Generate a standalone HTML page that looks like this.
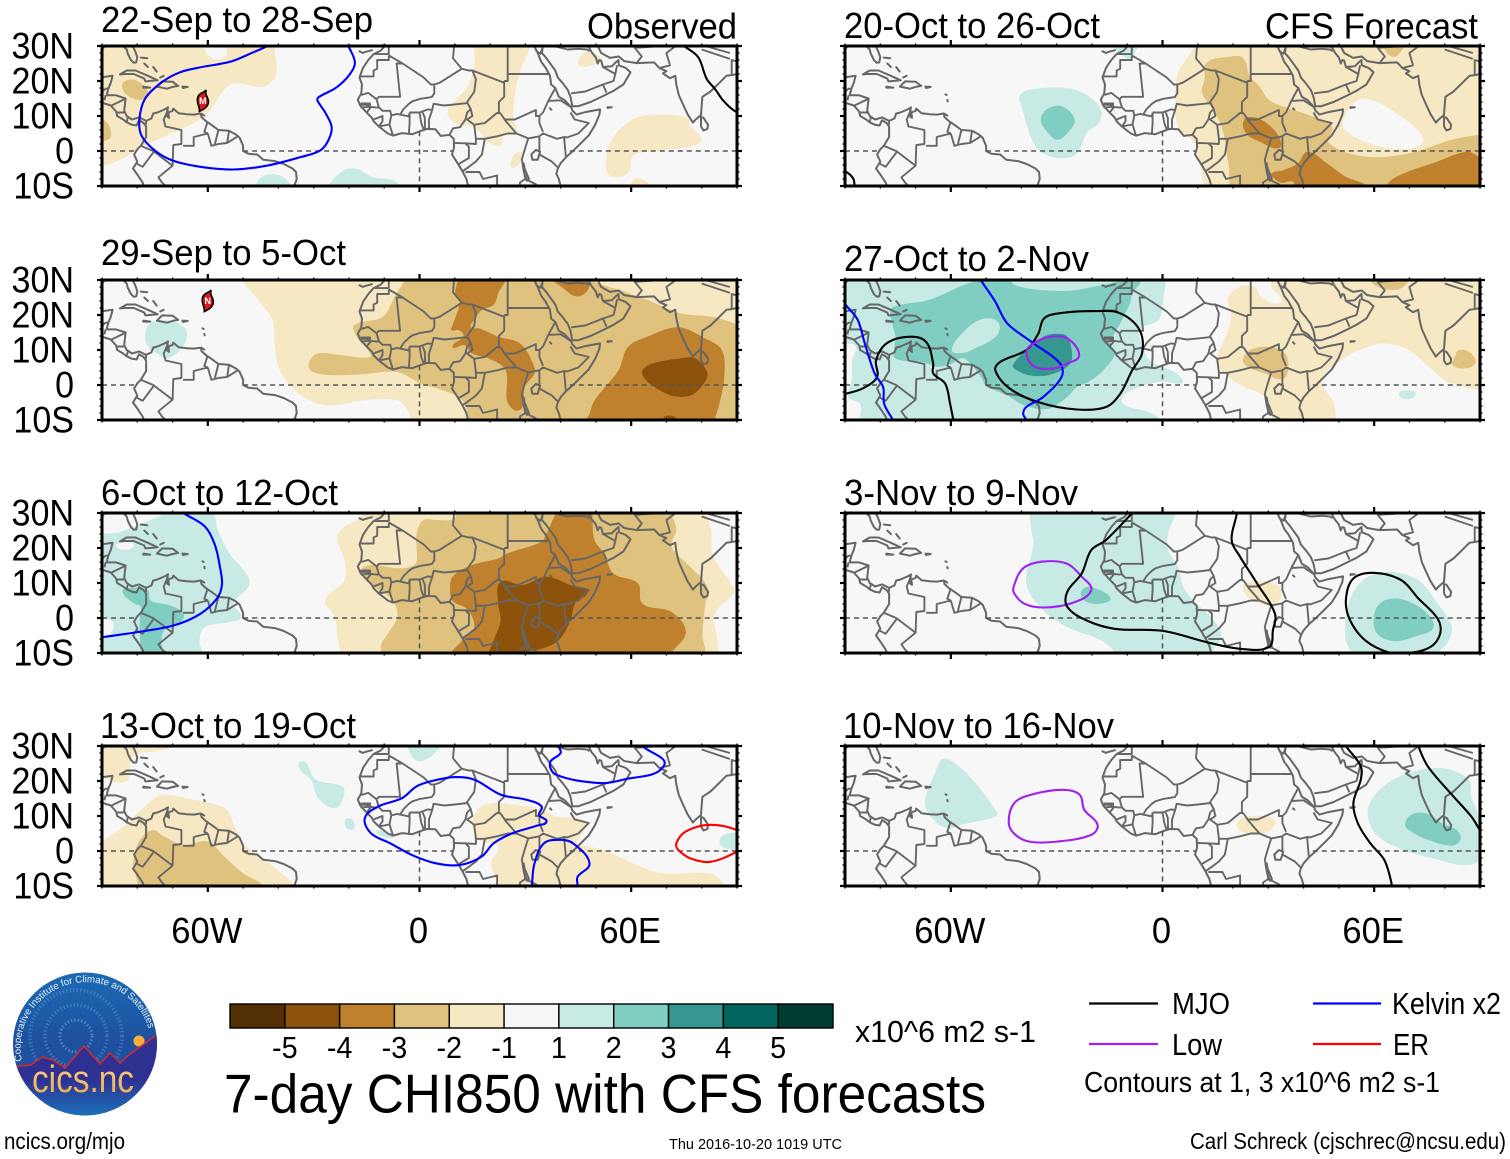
<!DOCTYPE html>
<html lang="en">
<head>
<meta charset="utf-8">
<title>7-day CHI850 with CFS forecasts</title>
<style>
html,body{margin:0;padding:0;background:#fff;}
svg{display:block;}
text{font-family:"Liberation Sans",sans-serif;fill:#000;}
</style>
</head>
<body>
<svg id="chart" xmlns="http://www.w3.org/2000/svg" width="1510" height="1159" viewBox="0 0 1510 1159">
<defs>
<linearGradient id="logoSky" x1="0" y1="0" x2="0" y2="1"><stop offset="0" stop-color="#1b6cb5"/><stop offset="0.5" stop-color="#1d4f9e"/><stop offset="1" stop-color="#1d5ba8"/></linearGradient>
<linearGradient id="logoLand" x1="0" y1="0" x2="0" y2="1"><stop offset="0" stop-color="#2e3192"/><stop offset="0.55" stop-color="#2e3192"/><stop offset="1" stop-color="#1b78c0"/></linearGradient>
<linearGradient id="logoText" x1="0" y1="0" x2="0" y2="1"><stop offset="0" stop-color="#fbd68a"/><stop offset="1" stop-color="#e9a347"/></linearGradient>
<clipPath id="logoClip"><ellipse cx="85" cy="1044" rx="72" ry="71.5"/></clipPath>
<path id="logoArc" d="M 22,1061 A 65 65 0 1 1 150,1034"/>
</defs>
<rect x="0" y="0" width="1510" height="1159" fill="#fff"/>
<g id="panels"></g>

<g>
<text x="587" y="38.5" font-size="36" textLength="150" lengthAdjust="spacingAndGlyphs">Observed</text>
<text x="1265" y="38.5" font-size="36" textLength="213" lengthAdjust="spacingAndGlyphs">CFS Forecast</text>
</g>

<g id="colorbar"></g>
<text x="855" y="1042" font-size="31" textLength="181" lengthAdjust="spacingAndGlyphs">x10^6 m2 s-1</text>
<text x="224" y="1112.5" font-size="55" textLength="762" lengthAdjust="spacingAndGlyphs">7-day CHI850 with CFS forecasts</text>

<g>
<line x1="1089" y1="1003.5" x2="1158" y2="1003.5" stroke="#000" stroke-width="2.2"/>
<text x="1172" y="1014" font-size="31" textLength="58" lengthAdjust="spacingAndGlyphs">MJO</text>
<line x1="1313" y1="1003.5" x2="1381" y2="1003.5" stroke="#0000ff" stroke-width="2.2"/>
<text x="1392" y="1014" font-size="31" textLength="109" lengthAdjust="spacingAndGlyphs">Kelvin x2</text>
<line x1="1089" y1="1044" x2="1158" y2="1044" stroke="#a020f0" stroke-width="2.2"/>
<text x="1172" y="1055" font-size="31" textLength="50" lengthAdjust="spacingAndGlyphs">Low</text>
<line x1="1313" y1="1044" x2="1381" y2="1044" stroke="#ff0000" stroke-width="2.2"/>
<text x="1393" y="1055" font-size="31" textLength="36" lengthAdjust="spacingAndGlyphs">ER</text>
<text x="1084" y="1092" font-size="29" textLength="356" lengthAdjust="spacingAndGlyphs">Contours at 1, 3 x10^6 m2 s-1</text>
</g>

<g>
<g clip-path="url(#logoClip)">
<rect x="10" y="970" width="150" height="150" fill="url(#logoSky)"/>
<circle cx="76" cy="1036" r="46" fill="none" stroke="#6fa8dc" stroke-width="4" stroke-dasharray="1.5 2" opacity=".35"/>
<circle cx="76" cy="1036" r="31" fill="none" stroke="#6fa8dc" stroke-width="3.5" stroke-dasharray="1.5 2" opacity=".4"/>
<circle cx="76" cy="1036" r="16" fill="none" stroke="#8fbce6" stroke-width="3" stroke-dasharray="1.5 2" opacity=".45"/>
<circle cx="139" cy="1041" r="5.5" fill="#fbb040"/>
<path d="M10,1068 L18,1066 31,1065 42,1057 53,1060 65,1068 84,1046 100,1064 110,1053 120,1063 129,1055 155,1036 165,1030 165,1120 10,1120 Z" fill="url(#logoLand)"/>
<path d="M10,1068 L18,1066 31,1065 42,1057 53,1060 65,1068 84,1046 100,1064 110,1053 120,1063 129,1055 155,1036" fill="none" stroke="#d8262c" stroke-width="1.5"/>
</g>
<text font-size="9.7" style="fill:#e8f1fa"><textPath href="#logoArc" startOffset="0">Cooperative Institute for Climate and Satellites</textPath></text>
<text x="32" y="1092" font-size="38" textLength="102" lengthAdjust="spacingAndGlyphs" style="fill:url(#logoText)">cics.nc</text>
</g>

<text x="4" y="1149" font-size="23.5" textLength="121" lengthAdjust="spacingAndGlyphs">ncics.org/mjo</text>
<text x="669" y="1149" font-size="15" textLength="173" lengthAdjust="spacingAndGlyphs">Thu 2016-10-20 1019 UTC</text>
<text x="1190" y="1149" font-size="23.5" textLength="316" lengthAdjust="spacingAndGlyphs">Carl Schreck (cjschrec@ncsu.edu)</text>
</svg>

<script>
// ---------- chart values (lon,lat pairs in flat arrays) ----------
const panelTitles = ["22-Sep to 28-Sep","29-Sep to 5-Oct","6-Oct to 12-Oct","13-Oct to 19-Oct","20-Oct to 26-Oct","27-Oct to 2-Nov","3-Nov to 9-Nov","10-Nov to 16-Nov"];
const latTickLabels = [[30,"30N"],[20,"20N"],[10,"10N"],[0,"0"],[-10,"10S"]];
const lonTickLabels = [[-60,"60W"],[0,"0"],[60,"60E"]];
const colorbarColors = ["#543005","#8c510a","#bf812d","#dfc27d","#f6e8c3","#f7f7f7","#c7eae5","#80cdc1","#35978f","#01665e","#003c30"];
const colorbarTicks = ["-5","-4","-3","-2","-1","1","2","3","4","5"];
const shadeLevels = {"-4":"#8c510a","-3":"#bf812d","-2":"#dfc27d","-1":"#f6e8c3","0":"#f7f7f7","1":"#c7eae5","2":"#80cdc1","3":"#35978f"};
const lineColors = {mjo:"#000000",kelvin:"#0000ff",low:"#a020f0",er:"#ff0000"};
const equatorLandGaps = [[-90,-80.3],[-50,9.4],[42.6,90]];
const meridianOcean = [5.6,-10];
const stormMarks = [[0,-61.4,14.3,"M"],[1,-60,24,"N"]];

const panel1Shades = [
[-1,[-92,32,-61,32,-61,29.5,-59,26.5,-55,27,-54,32,-43,32,-40.6,25,-41,21,-44.4,18.3,-52.6,19.4,-55.3,17.5,-57.4,14.6,-60,10.8,-64.9,7.5,-72.4,4.1,-78.5,1.2,-84,-2.1,-90,-4.5,-92,-5]],
[-2,[-84.1,19.4,-81.2,20.4,-77.8,18.3,-77,15.6,-79.8,14.6,-83.6,16.6]],
[-2,[-92,9.5,-88.5,8,-87.5,4,-89,3,-92,3]],
[-1,[16.7,32,30.4,32,28.5,22.5,27.1,16.8,26.6,9.1,27.4,6.3,23.8,4.4,22.8,1.5,19.5,2.5,17.2,5.3,14.3,7.2,10.5,7.7,7.9,11,10.5,14.8,13.8,18.7,15.5,24.4]],
[-1,[45.3,24.4,46,27.7,48.3,28.2,51.7,26.3,50.2,24.9]],
[-1,[53.5,0.6,55.9,5.3,60.6,9.1,65.4,10.3,75.8,9.6,76.7,7.2,80,3.4,77.6,1.5,68.2,0.1,60.6,-1.3,59.2,-6.1,55,-7.5,52.9,-5.1]],
[-1,[60,-11,61,-8,63.5,-8.3,66,-11]],
[-1,[26.1,-4.7,26.6,-1.3,29,-0.4,28.5,-3.2]],
[1,[-46.4,-9.4,-43.8,-6.9,-39.5,-7,-36.7,-9.4,-36,-11.5,-47,-11.5]],
[1,[-25.4,-9.4,-21.6,-5.6,-17.8,-5.1,-13.2,-7.5,-6.9,-8.6,-5.5,-11.5,-26,-11.5]]
];
const panel1Lines = [
["kelvin",false,[-40,32,-42.9,30.1,-47.1,28.2,-53.7,25.5,-62.2,23.9,-67.9,22.5,-73.1,19.6,-77.8,14.9,-79.4,9.1,-78.8,4.4,-75,0.1,-69.8,-2.8,-62.2,-4.5,-52.8,-5.3,-43.3,-4.2,-33.9,-1.8,-28.2,0.1,-25.9,2.9,-24.9,6.8,-26.8,11.1,-28.9,14.4,-28.7,15.3,-23.5,18.2,-19.7,22,-18.3,25.3,-20.2,30.1,-21,32]],
["mjo",false,[73,31.5,74.8,30.1,79,26.8,81.4,20.6,83.8,17.7,86.1,14.4,89.4,11.4,92,10.8]]
];

const panel2Shades = [
[-1,[-50.5,32,-50.5,30.3,-45.8,24.3,-41.7,18.6,-41,10.9,-39.6,4.2,-34.2,-2.5,-26.7,-5.8,-15.8,-4.4,-6.3,-4.4,-2.9,-8.2,-2.2,-11.5,92,-11.5,92,32]],
[-2,[-4.2,32,-4.2,30.3,-7,25.3,-10.4,19.5,-18.5,17.1,-17.8,13.8,-13.8,8.5,-16,7.8,-24,8.8,-29.4,8.8,-31.5,5.6,-30,3.6,-24,2.8,-15.8,3.1,-6.3,3.7,0.5,0.4,6.7,-1.5,12.1,-4.4,14.2,-10,14.2,-11.5,92,-11.5,92,14.7,85,19,74,20.5,64.6,24.3,56.4,27.2,49.6,29.6,48.2,32]],
[-3,[12.8,32,24.4,32,22.3,26.2,21,22.9,17.6,21.4,15.5,18.6,14.5,16.5,16.9,16.2,22.3,13.8,28.5,11.9,32.2,6.1,32.6,3.3,29.8,-0.6,29.2,-6.3,27.1,-7.3,24.8,-4.4,24.4,4.2,19.6,7.6,14.9,9,12.8,11.4,9.4,10.9,12.5,14,11,15.7,9,15.7,9.4,17.1,11.4,23.8,10,26.2]],
[-3,[36.6,32,47.5,32,48,27.7,44.8,25.3,40.7,27.7]],
[-3,[47,-11.5,48.2,-8.2,49.6,-4.4,56.4,4.2,59.1,10.9,64.6,13.8,73.4,16.5,80.9,13.3,85.7,10,86.4,2.3,85,-5.4,83.7,-10,83.7,-11.5]],
[-4,[63.2,4.2,65.9,6.1,74.1,7.6,78.2,7.6,81.6,3.3,80.2,-0.1,76.8,-3,71.4,-3,65.9,-0.1,63.5,2.3]],
[-4,[68.7,-10,70.8,-8.7,73.4,-10.5,70,-11.5]],
[1,[-77.8,13.8,-76.4,17.6,-71.7,18.5,-66.9,16.6,-65.9,13.8,-68.3,9.5,-71.7,7.6,-74.4,9,-76.8,10.9]]
];
const panel2Lines = [];

const panel3Shades = [
[1,[-70,32,-58,32,-58,30,-57.3,25.5,-53.9,18.5,-48.5,11.8,-48.5,8.9,-52.6,4.1,-50.5,0.3,-54,-1.2,-60.8,-2.6,-62.4,-6.4,-61.4,-10,-61.4,-11.5,-92,-11.5,-92,-6,-88,-5,-87,-1,-92,0.5,-92,22.5,-85,24.5,-80,26.5,-75,28.5,-72,30]],
[0,[-86,20.5,-84,21.5,-81,21,-83,19.5]],
[2,[-84.2,7.5,-81.9,8.6,-77.1,8,-76.2,5,-72.3,4,-69.6,3.2,-66.9,1.2,-67.6,-1.1,-72.3,-3.5,-73,-8.3,-71,-10,-71,-11.5,-78,-11.5,-79.2,-6.4,-79.3,0.3,-79,3.2,-81,4.2]],
[-1,[-16,32,-16.5,29,-21.9,25.6,-23.3,22.8,-21.3,16.6,-21.3,10.8,-26.7,5.1,-24,0.3,-23.3,-5.5,-22.3,-10,-22.3,-11.5,85,-11.5,85,-10,84.3,-5.5,83.7,1.2,89,7,89,8.9,85,14.6,83,18.5,82.7,25.2,81,30.1,81,32]],
[-2,[72,32,71.4,30,72.8,25.2,71.5,20.4,76.8,14.6,81.6,8.9,80.9,3.2,80.2,-4.5,80.2,-11.5,-9.6,-11.5,-11,-8.3,-9,-4.5,-6.3,0.3,-7.6,5.1,-13.8,9.9,-15.8,14.6,-4.9,14.2,-1.1,15.6,-0.8,19.4,-0.8,24.2,1.2,28,5,28,10,28.5,10,32]],
[-3,[40.7,32,49,32,49,29.5,49.6,22.3,52.3,18.5,55,12.7,61.9,9.9,63.2,4.1,71.4,1.7,75.5,-4,71.4,-10,71,-11.5,8.7,-11.5,12.1,-6.4,15.5,-2.6,13.5,2.5,9.5,4.8,8.7,7.5,9.4,11.8,14.9,15.1,22.3,17,25,18.5,34.6,21.8,36,24.2]],
[-4,[23,10.3,29.2,9.4,36,11.8,42.8,9.4,47.5,7.5,44.1,4.1,42.8,-0.7,39.4,-6.4,34.6,-8.8,29.2,-10,29,-11.5,19.5,-11.5,19.6,-10,21,-6.4,23,-0.7,22.3,4.1]]
];
const panel3Lines = [
["kelvin",false,[-68.5,31.5,-66.9,30,-60.8,26.1,-58,20.9,-56.4,13.7,-56,9.4,-57.4,5.6,-62.1,1.2,-69.6,-2.1,-79.8,-4,-90,-5.5,-93,-6]]
];

const panel4Shades = [
[-1,[-92,32,-69,32,-69.6,30,-74.4,28.5,-81.2,27.1,-82.6,20.4,-86,19.6,-90,21.8,-92,22]],
[-1,[-92,1.5,-90,2.7,-83.9,7,-80.5,10.3,-74.4,15.6,-71.7,16,-66.3,15.1,-59.4,13.7,-54.6,11.8,-52.6,7.5,-49.9,2.2,-45.1,-1.6,-39,-6.4,-35.6,-9.6,-35,-11.5,-92,-11.5]],
[-2,[-79.2,3.2,-75.7,6,-72.3,4.1,-66.9,1.7,-60,2.7,-55.3,-1.6,-49.9,-6.4,-44.5,-9.6,-44,-11.5,-80,-11.5,-80,-9,-81.1,-2.6]],
[-1,[14.9,7.5,16.9,12.2,21,13.7,30.5,12.7,33.9,12.2,38.7,9.9,47.5,8.4,45.5,4.1,44.8,2.2,52.3,0.3,60.5,-3.5,68.7,-6.4,82.3,-6.4,86.4,-9.6,86.5,-11.5,21.5,-11.5,22.3,-9.6,20.3,-3.5,22.3,1.2,16.9,3.2]],
[1,[-3,32,6,32,5.3,29,0.5,25.6,-2.2,27.1]],
[1,[-34.2,25.2,-32.2,25.2,-29.4,20.4,-21.9,18.5,-21.5,15.6,-24,12.2,-28.7,15.1,-30.8,20.4,-33.5,22.8]],
[1,[-21,8.9,-19.2,9.1,-18.5,6.5,-20.6,6.5]],
[1,[-12.4,5.6,-10.4,5.6,-7.6,4.1,-9.7,3.9]],
[1,[85,2.7,92,5,92,0.7]]
];
const panel4Lines = [
["kelvin",true,[-15.5,9.4,-11.7,12.7,-4.9,15.1,-0.8,18.5,4,20.1,10.1,21.1,15.5,20.4,23,16.1,30.5,14.6,34.6,12.7,33.9,10.3,36,8.4,33.2,7.2,26.4,5.1,21,2.2,17.6,-1.6,11.4,-4,4.6,-3.5,-2.2,-1.1,-8.3,2.2,-13.8,5.1]],
["kelvin",false,[31.8,-12,31.9,-9.6,32.6,-3.5,35.3,2.2,40,3.2,43.5,2.2,48.2,-3.5,44.8,-7.4,44.8,-9.6,44.8,-12]],
["kelvin",false,[39,32,39.4,30,40,28,37,25.2,38.7,21.8,51,19.4,57.8,20.4,69.3,24.4,63.2,30,62,32]],
["er",true,[72.8,2.2,75.5,5.6,82.3,7.5,90,6,94,3,90,-0.2,82.3,-3.1,76.8,-2.1,73.4,0.3]]
];

const panel5Shades = [
[-1,[9.1,32,9.1,30,4.4,22.3,3.7,15.6,4.4,7,9.1,2.2,10.5,-3.5,13.9,-11.5,92,-11.5,92,32]],
[0,[51.4,9.4,55.4,14.6,60.2,14.2,67,10.3,73.8,4.1,72.5,1.2,64.3,0.8,56.1,3.2,51.4,6.5]],
[-2,[12.5,25.2,18.7,26.9,22.8,26.6,24.8,21.3,27.5,18.5,30.2,14.6,37,11.8,42.5,9.9,48,7,47.3,2.2,57.5,-1.6,69.8,-0.7,82,3.2,90,4.6,93,4,93,-11.5,20.7,-11.5,18.7,-3.5,18,0.3,17.3,5.1,15.3,10.3,11.2,16.6,11.9,20.4]],
[-2,[63,32,68.4,32,66.3,27.1,63.6,28]],
[-3,[22.8,7.5,24.1,9.7,28.9,8.4,33,4.1,33,0.8,27.5,2.7,24.1,4.6]],
[-3,[30.9,-6.4,34.3,-5.5,38.4,-3.5,41.1,-0.2,46.6,-3.5,52,-7.4,57.5,-9.6,58,-11.5,37.5,-11.5,37,-8.8,33.6,-9.1,31.6,-7.8]],
[-3,[64.3,-8.8,68.4,-6.4,76.6,-3.5,86.1,-0.2,89.8,-1.6,93,-3,93,-11.5,63.5,-11.5]],
[1,[-14,32,-6.5,32,-8,28,-9.3,26.4,-12,27.8,-14,30]],
[1,[-40.6,15.6,-37.9,17.5,-27,18,-21.5,16,-17.4,11.8,-18.1,7.9,-21.5,5.1,-24.3,-0.7,-28.3,-2.1,-33.8,-0.7,-36.5,2.2,-38.6,7.9,-39.9,12.7]],
[2,[-34.5,8.9,-32.4,12.2,-28.3,12.7,-24.9,8.9,-27,5.1,-29.7,3.2,-32.4,5.1]]
];
const panel5Lines = [
["mjo",false,[-92,-5,-90,-5.7,-87.7,-7.8,-87.3,-10,-87.3,-12]]
];

const panel6Shades = [
[1,[-92,32,1,32,1,30,0.3,25.3,-1.1,18.6,-6.5,15.7,-5.2,10,-3.8,7.1,5.7,1.3,-1.1,0.9,-10.6,-2.5,-11.2,-5.4,-3.8,-7.8,-0.4,-10,-0.4,-11.5,-85,-11.5,-85.7,-5.4,-89,-3.5,-88,2,-88,7,-87,11,-92,13]],
[2,[-56.3,28.6,-52.9,29.6,-43.4,30,-42,28.6,-35.2,27.2,-25.6,27,-16.8,28.6,-6.5,30,-8.6,26.2,-9.2,23.3,-12,17.6,-14.7,11.9,-13.4,9,-16.8,4.2,-20.2,1.3,-24.3,-0.6,-27,-3.4,-32.4,-6.8,-39.2,-5.8,-43.3,-3.4,-50.1,-0.1,-51.5,2.3,-56.3,7.6,-59.7,6.1,-63.9,5.2,-67.9,6.5,-75.7,7.6,-76,10.9,-75.7,13.8,-76.4,16.7,-77.1,21.4,-74.4,22.9,-66.2,24.3]],
[1,[-59.7,10,-55.9,15.7,-51.8,18.6,-47.8,18.8,-46.1,16.7,-47.8,13.3,-53.3,10.4,-56.3,9.2]],
[3,[-42.4,5.6,-38.6,10,-33.8,13.8,-29.7,14.7,-27,13.8,-25.6,8,-27,5.2,-32.4,2.8,-37.9,2.8,-41.3,4.2]],
[-1,[32.3,32,93,32,93,0.4,82,0.4,76.6,4.2,69.8,10,62.9,11.9,58.2,10.9,51.4,7.6,45.2,1.3,48.6,-5.4,48,-11.5,32.9,-11.5,28.9,-3.4,23.4,-0.6,20,1.3,15.2,6.1,15.4,8,18.2,14.7,19.5,20,18.5,25,22.1,28.1,26.2,28.1,28.2,24.8,33.7,23.8,30.9,28.1]],
[-2,[22.8,7.1,24.8,10,30.2,10.9,34.3,9.5,35.7,6.1,34.3,1.8,28.9,3.3,24.1,5.2]],
[-2,[58,32,70,32,68.4,28.1,64.3,27.2,60.1,28.6]],
[-2,[82.7,7.6,84,10,87.5,9,88.6,6.1,84.8,4.7,82,6.1]],
[1,[67,-2.5,69.8,-1.5,71.8,-2.7,69,-4.1]]
];
const panel6Lines = [
["mjo",true,[-33.6,19,-29.3,20.5,-18.8,21.1,-12,20.5,-6.5,15.7,-5.8,9,-8.6,4.2,-12,-2.5,-16,-6.3,-24.3,-7,-35.2,-4.9,-43.3,-1,-47.4,4.2,-46,6.6,-38.6,10,-35.2,14.7]],
["mjo",false,[-93,-3.5,-89.8,-2.5,-85,-1,-80.9,2.3,-81.2,7,-78.2,11.9,-71.7,13.8,-67,12.3,-65,6.1,-65,3.3,-61.6,0.4,-60.2,-5.4,-59.3,-10,-59,-12]],
["kelvin",false,[-52.5,32,-51.5,30,-47.4,23.8,-44,17.6,-36.5,11.9,-29,6.1,-28.6,2.3,-33.8,-3.4,-38.6,-6.3,-39.5,-8.2,-38.6,-10,-38,-12]],
["kelvin",false,[-91,24.5,-89.8,22.9,-86.4,18.6,-84.4,11.9,-81.6,3.3,-79.2,-0.6,-78.9,-5.4,-76.4,-10,-75.5,-12]],
["low",true,[-38.6,9.5,-36.5,11.9,-31.8,13.8,-27,13.3,-23.6,8.5,-27,6.1,-31,4.7,-36.5,5.4]]
];

const panel7Shades = [
[1,[-36.5,32,3.7,32,3.7,30,1.6,24.2,1.6,19.4,4.4,14.6,6.4,7.9,15.3,-1.6,16.6,-5.5,13.9,-9.9,13.9,-11.5,-13.4,-11.5,-13.4,-9.9,-17.4,-6.4,-27,-2.6,-33.8,2.2,-38.6,9.9,-36.5,21.3,-37.2,25.2]],
[2,[-23.2,7,-21.5,8.9,-18.8,8.4,-14.7,5.6,-17.4,4.1,-21.5,4.6]],
[1,[51.8,-5.5,52.7,4.1,56.8,10.8,64.3,13.2,72.5,10.8,78,4.1,82,-2.6,80.6,-7.4,77.8,-10,77.5,-11.5,53.5,-11.5,53.4,-10]],
[2,[59.9,0.3,61.6,4.1,65.7,5.6,71.1,4.1,75.9,0.3,76.6,-3.1,72.5,-5,65.7,-6.6,60.9,-4.5]],
[-1,[22.8,8.9,24.1,10.3,31.6,9.9,33.7,7.9,32.3,4.1,27.5,4.1,24.1,6]]
];
const panel7Lines = [
["low",true,[-42.2,8.9,-39.5,14.2,-34,16.1,-27.3,15.6,-22.9,11.8,-20.2,7.9,-25.6,4.3,-33.8,3,-39.2,4.1,-42,7]],
["mjo",false,[-7.5,31.5,-8.6,30,-16,22.3,-20.2,19.4,-22.9,12.7,-27,7.5,-27,3.2,-21.5,-0.7,-13.4,-3.1,0.3,-3.7,12.5,-6.9,22.1,-8.8,30.2,-8.3,31.3,-3.5,31.9,1.2,26.8,9.9,22,17.5,19.6,22.3,21.1,30,21,32]],
["mjo",true,[52,5.1,54.1,11.3,60.2,12.9,67.7,10.8,72.5,5.6,78,-0.2,78.7,-4.5,75.9,-8.3,69.8,-10,64.3,-9.9,57.5,-6.4,53.2,-0.7]]
];

const panel8Shades = [
[1,[-62.7,26.1,-60.4,26.1,-54.3,20.9,-46.8,10.8,-47.5,9.7,-57,7.5,-60.4,6.5,-63.8,7.9,-67.2,12.7,-66.5,17.5,-64.5,22.3]],
[1,[58.2,11.8,61.6,17.5,68.4,21.8,79.3,23.7,86.8,20.4,87.5,15.6,89.5,10.3,90,4,90.9,-1.6,86.1,-4,76.6,-2.1,67,0.8,60.2,5.1]],
[2,[68.7,7.5,70.4,10.3,74.5,10.8,79.3,7.9,83.4,6,84.5,3.2,82,1.5,75.2,3.2,70.4,5.6]],
[-1,[21,7.5,23.4,9.7,30.2,9.7,31.9,7.9,28.9,5.1,23.4,5.1]]
];
const panel8Lines = [
["low",true,[-43.6,8.4,-42,13.7,-37.2,16.1,-28.3,17.5,-23.5,16.1,-22.2,11.8,-18.4,7.5,-20.2,4.6,-29.7,2.7,-37.9,2.7,-42.2,5.1]],
["mjo",false,[51,32,52,30,56.2,24.2,56.2,20.4,54.1,13.7,55.4,7.9,58.9,2.2,62.9,-2.6,65,-9.6,65,-12]],
["mjo",false,[72,32,72.5,30,75.2,24.2,82,16.1,87.5,9.9,90.2,5.6,92,3]]
];

const panelShades = [panel1Shades,panel2Shades,panel3Shades,panel4Shades,panel5Shades,panel6Shades,panel7Shades,panel8Shades];
const panelLines = [panel1Lines,panel2Lines,panel3Lines,panel4Lines,panel5Lines,panel6Lines,panel7Lines,panel8Lines];

const coastLines = [
[-92,18.6,-90.7,19.3,-90.4,21,-87,21.5,-87.5,19.5,-88.2,17.8,-88.7,15.9,-86,15.9,-83.3,15,-83.7,11.5,-83,10,-81.5,9,-79.5,9.6,-77.5,8.6,-76,9.3,-75.5,10.7,-74.3,11,-72,12,-71.3,12.5,-71.6,11,-71.7,10,-71,9.5,-71.2,11,-70,11.5,-69.8,12.1,-68.3,10.8,-66,10.5,-64,10.4,-62,10.7,-61.8,9.7,-60.5,8.5,-59,7.5,-57,6,-54,5.8,-52,4.7,-51,3.8,-50,1.5,-50,0,-48.5,-0.8,-46,-1,-44.3,-2.5,-41,-2.9,-38.5,-3.7,-36,-5,-35,-6,-34.8,-8,-35.5,-10,-36.5,-11.5],
[-92,14.5,-90,13.8,-87.5,13,-86,11.3,-85.7,10,-84,9,-83,8.2,-81.5,7.5,-80.2,7.3,-79.5,8.8,-78.2,8,-77.5,7,-77.5,4,-79,1.5,-80,0.5,-80.9,-1,-80,-3,-81.2,-5,-79.8,-7,-78.5,-9,-77.5,-11.5],
[-92,29.4,-90,29.2,-89,30,-86,30.4,-84,30,-83,29,-82.7,27.8,-81.8,26,-81,25.2,-80.3,25.3,-80,26.8,-80.6,28.5,-81.3,30,-81.4,31,-80,32],
[-84.9,21.9,-83,23,-80.5,23,-77,21.5,-74.2,20.2,-77.7,19.9,-78,20.7,-81,22,-83.5,22,-84.9,21.9],
[-74.4,18.4,-73,19.9,-70,19.8,-68.4,18.6,-70,18.3,-71.6,17.8,-74.4,18.4],
[-78.3,18.4,-76.3,18.1,-78.3,18.1,-78.3,18.4],
[-67.2,18.4,-65.7,18.3,-67,18,-67.2,18.4],
[-79,26.7,-77.2,26.5],[-78,25,-77,24],[-75.5,24,-74.5,22.7],[-73.5,21,-72.5,21.5],
[-61.5,16.2,-61.2,16],[-61,14.6,-60.9,14.2],[-61.7,10.6,-61,10.1],
[-9.8,32,-9.8,30,-11,28.7,-13,27.7,-14.5,26,-16,23.8,-17,21,-16.3,19,-16.5,16.5,-17.5,14.7,-16.8,13,-15,11,-13.5,9.5,-13,8.5,-11.5,7,-9,5,-7.5,4.4,-5,5.1,-2,4.8,0,5.6,2,6.3,4.5,6.2,6,4.3,8.5,4.6,9.7,3.5,9.8,1,9.2,-1,11,-3.8,12.2,-5.8,13.3,-8,13.8,-10,13.9,-11.5],
[-17,28.5,-16,28],[-15.7,28.2,-13.5,28.8],
[32.5,30,33.5,28,34.5,25.5,35.7,23.9,37,21.5,37.3,19,38.5,18,39.5,15.5,41.2,14.5,43,12.5,43.3,11.6,44.5,10.4,47,11.1,51.2,11.9,51,10.4,49.8,7.5,48,4.5,46,2.5,43.5,0,41.5,-1.8,40,-3.5,39.2,-5,38.8,-6.5,39.5,-8,40,-10,40.5,-11.5],
[32.6,30,33.2,28.5,34.3,27.8,34.9,29.5],
[34.9,29.5,34.7,28,36,26.5,37.2,24.8,38.5,23,39.2,21,40.5,19.5,42,17.5,42.8,15.5,43.3,12.8,45,12.8,48.5,14,52,15.7,55,17.2,57.8,19,59.8,22.5,58.5,23.7,56.5,24.5,56.4,26,55.5,25.2,54.5,24.2,52,24,51.5,25.8,51,26,50.5,25,50,26.7,48.8,28.2,48,29.7,49,30.3,50.5,30,51.5,28,54,26.6,56.5,27,58,25.7,61.5,25.1,66.5,25.3,68,23.7,70,22.8,69,22.2,71,20.8,72.5,21.5,72.8,19,73.5,16,74.7,13.3,76,10.5,77.5,8.1,78.3,9,79.8,10.3,80,13,80.2,15.5,82.5,17,85,19.5,87,21.5,88.5,21.7,90,22,91.5,22.5,92,21],
[79.8,9.7,80.5,9.5,81.8,7.5,81.6,6.3,80.5,5.9,79.8,7,79.8,9.7],
[53.3,12.5,54.5,12.5,53.3,12.3,53.3,12.5],
[31.7,-1,33,0.3,34.2,-0.2,33.5,-2.5,32,-2.5,31.7,-1],
[29.2,-3.5,29.6,-6,30.5,-8.5,31,-8,29.8,-5,29.5,-3.5,29.2,-3.5],
[34.3,-10,34.7,-11.5],[37,12.2,37.4,11.8]
];
const borderLines = [
[-13,27.7,-8.7,27.7,-8.7,30],[-8.7,27.3,-4.8,25,1.2,21,3.2,19,4.2,19,5.7,19.5,12,23.5,9.5,26.5,9.8,30,9.5,32],
[-17,21.3,-13,21.3,-13,23,-12,23.5,-12,26,-8.7,26,-8.7,27.3],
[-4.8,25,-6.5,25,-5.5,15.5,-11.5,15.5,-12.2,14.8],[-16.5,16,-14.5,16.6,-12.2,14.8,-11.5,12.5],
[12,23.5,14,23,15,23,16,20.5,15.5,16.9,13.5,14,13.6,13.7],[15,23,24,19.5,24,20],[25,32,25,20,24,20],[25,22,37,22],
[24,19.5,24,15.5,22.5,14,22.5,11,23,10.7],[13.6,13.7,14.5,12,15,10,13.5,9,15.5,7.5,18.5,8,22,10.9,23,10.7],
[4.2,19,4.2,16.5,3.5,15.4,0.2,14.9,-2,14.2,-3,13.5,-4.5,12,-5.5,10.4,-6.3,10.6,-8,10.2,-8.3,11.5,-10.5,11.5,-11.5,12.5,-12.2,12.4,-13.7,12.6,-15,12.7],
[-16.7,12.4,-13.7,12.7],[-16.7,13.6,-14,13.6,-14,13.2,-16.7,13.2],[-15,11,-13.7,12.6],
[3.6,11.7,4,13.5,7,13,10,13.3,13.6,13.7],[2.7,6.3,2.7,9,3.6,11.7],[1.6,6.2,1.5,9.5,0.9,11],[1.2,6.1,0.5,8,0,11],[-3,5,-2.8,8,-2.8,11],[-2.8,11,0,11,2.4,11.9,3.6,11.7],
[-7.5,4.4,-8.5,7.6,-8,10.2],[-5.5,10.4,-3,9.9,-2.8,11],[-11.5,7,-10.5,8.5,-10.5,10,-13,9],[-11.5,7,-8.5,7.6],
[8.5,4.6,9.5,6.5,11.5,6.8,13,9,13.5,11,14.5,12],[9.7,2.3,13,2.2,16,2,16,3.5,15.5,7.5],
[16,3.5,18.5,3.5,22,4.2,25,5,27.5,5,30.8,3.6],[27.5,5,24.5,8.5,23,10.7],[24,9,27,9,33,11.7,33,10,34,10],
[36.5,14.3,35,11,34,10,34,8,35,5.5],[30.8,3.6,34,4.2,35,5,39,3.5,41,4,41.9,3.9,45,5,48,8,44,9,42.8,11],
[36.5,14.3,38.5,18],[36.5,14.3,40,14.5,43,12.5],[41.5,-1.8,41,3.9],[34,4.2,34,0],[34,-1,37.5,-3,39.2,-4.7],
[30.8,3.6,29.7,0,29,-2.5,29.2,-3.5,30,-8,28.5,-9,28.5,-11.5],[18.5,3.5,17.7,-1,16,-3,14,-4.5,12.2,-5.8],
[11,-3.8,14,-2,14,1.2,13,2.2],[13,-6,17,-6,18,-8,22,-7,22,-11.5],[30,-8,33,-9.5,34.5,-11.5],
[43,16.5,47,17,52,19,55,20,55.5,22,52,24],[52,19,53,16.7],[55.5,22,56,24.5],[36,30,38,30,42,29,45,29.2,47.5,29,48.2,28.5],[34.9,29.5,34.3,31.3],[48,30,46,33],
[61.5,25.1,63,27,61,29.5,61,32],[68,23.7,71,24.5,70,28,74,31,74.5,32],[61,29.5,66,29.8,69,31.8],[80,29,88,26.3],[81,30,88,28],[88.5,21.7,88.5,26,92,25,92,23],
[-71.3,11.8,-72.5,9,-72,7,-67.5,6,-67.5,2,-69.8,1.7,-70,-4.2],[-60,8.5,-61,5.5,-60,5],[-60,5,-59,1.5,-57,2],[-57,6,-58,2],[-54,5.8,-54.5,2.3],[-51.5,4.2,-54.5,2.3,-57,2],[-60,5,-64,4,-64,1.5,-67,1.5],
[-78.8,1.4,-75.5,0,-70,-4.2,-74,-7.5,-73,-9,-70.5,-11.5],[-80.3,-3.5,-78.5,-4.5,-75.3,-0.2],[-77.5,8.6,-77.5,7.5],[-85.7,11,-83.7,11],[-83,8.2,-82.7,9.6],[-87.3,13,-83.2,15],[-89,15.9,-89.3,14.5],[-92,14.5,-91,16,-89,17.8,-88.2,17.8]
];

// ---------- axis functions ----------
const SVGNS = "http://www.w3.org/2000/svg";
const PLOT_W = 635, PLOT_H = 140, PX_PER_LAT = 3.5;
const COL_X = [102,845], ROW_Y = [46,280,513,746];
const TITLE_BASE = [[32,265,505,738],[38,271,505,738]];
const TITLE_X = [[101,101,101,100],[844,844,844,843]];
const TITLE_W = [[272,245,237,256],[256,245,234,271]];
function xAxis(left){ return lon => left + (lon + 90) * PLOT_W / 180; }
function yAxis(top){ return lat => top + (30 - lat) * PX_PER_LAT; }

function pairs(flat){ const out=[]; for(let i=0;i<flat.length;i+=2) out.push([flat[i],flat[i+1]]); return out; }
function make(tag, attrs, parent){
  const el = document.createElementNS(SVGNS, tag);
  for(const k in attrs) el.setAttribute(k, attrs[k]);
  parent.appendChild(el);
  return el;
}
function narrow(el, factor){
  const w = el.getComputedTextLength();
  el.setAttribute("textLength", (w*factor).toFixed(1));
  el.setAttribute("lengthAdjust", "spacingAndGlyphs");
}
function smoothPath(pts, closed){
  const n = pts.length;
  const at = i => closed ? pts[(i+n)%n] : pts[Math.max(0,Math.min(n-1,i))];
  let d = "M"+pts[0][0].toFixed(1)+","+pts[0][1].toFixed(1);
  const last = closed ? n : n-1;
  for(let i=0;i<last;i++){
    const p0=at(i-1),p1=at(i),p2=at(i+1),p3=at(i+2);
    const seg=Math.hypot(p2[0]-p1[0],p2[1]-p1[1])/3;
    const l1=Math.hypot(p2[0]-p0[0],p2[1]-p0[1])||1, l2=Math.hypot(p3[0]-p1[0],p3[1]-p1[1])||1;
    const c1=[p1[0]+(p2[0]-p0[0])/l1*seg,p1[1]+(p2[1]-p0[1])/l1*seg];
    const c2=[p2[0]-(p3[0]-p1[0])/l2*seg,p2[1]-(p3[1]-p1[1])/l2*seg];
    d+="C"+c1[0].toFixed(1)+","+c1[1].toFixed(1)+" "+c2[0].toFixed(1)+","+c2[1].toFixed(1)+" "+p2[0].toFixed(1)+","+p2[1].toFixed(1);
  }
  return d+(closed?"Z":"");
}
function polyPath(flat,x,y){
  return pairs(flat).map((p,i)=>(i?"L":"M")+x(p[0]).toFixed(1)+","+y(p[1]).toFixed(1)).join("");
}

// ---------- panels ----------
const root = document.getElementById("panels");
const defs = document.querySelector("defs");
const coastD = (x,y)=>coastLines.map(c=>polyPath(c,x,y)).join("");
const borderD = (x,y)=>borderLines.map(c=>polyPath(c,x,y)).join("");

panelTitles.forEach((title, idx) => {
  const col = idx < 4 ? 0 : 1, row = idx % 4;
  const left = COL_X[col], top = ROW_Y[row];
  const x = xAxis(left), y = yAxis(top);
  const g = make("g", {}, root);
  
  

  const clip = make("clipPath", {id:"clip"+idx}, defs);
  make("rect", {x:left,y:top,width:PLOT_W,height:PLOT_H}, clip);

  const bg = make("rect", {x:left,y:top,width:PLOT_W,height:PLOT_H,fill:"#f7f7f7"}, g);
  
  

  const body = make("g", {"clip-path":"url(#clip"+idx+")"}, g);
  
  

  panelShades[idx].forEach(s => {
    const pts = pairs(s[1]).map(p => [x(p[0]), y(p[1])]);
    const shade = make("path", {d:smoothPath(pts,true), fill:shadeLevels[s[0]]}, body);
    
    
  });

  const coast = make("path", {d:coastD(x,y), fill:"none", stroke:"#666", "stroke-width":2, "stroke-linejoin":"round", "stroke-linecap":"round"}, body);
  
  
  const borders = make("path", {d:borderD(x,y), fill:"none", stroke:"#666", "stroke-width":1.9, "stroke-linejoin":"round"}, body);
  
  

  equatorLandGaps.forEach(seg => {
    const eq = make("line", {x1:x(seg[0]),x2:x(seg[1]),y1:y(0),y2:y(0),stroke:"#555","stroke-width":1.5,"stroke-dasharray":"5 4"}, body);
    
    
  });
  const mer = make("line", {x1:x(0),x2:x(0),y1:y(meridianOcean[0]),y2:y(meridianOcean[1]),stroke:"#555","stroke-width":1.5,"stroke-dasharray":"5 4"}, body);
  
  

  panelLines[idx].forEach(l => {
    const pts = pairs(l[2]).map(p => [x(p[0]), y(p[1])]);
    const c = make("path", {d:smoothPath(pts,l[1]), fill:"none", stroke:lineColors[l[0]], "stroke-width":2.1, "stroke-linejoin":"round"}, body);
    
    
  });

  stormMarks.filter(m => m[0] === idx).forEach(m => {
    const mark = make("g", {transform:"translate("+x(m[1]).toFixed(1)+","+y(m[2]).toFixed(1)+")"}, body);
    
    
    make("path", {d:"M3.5,-11 C1,-8 -5,-8 -5.5,-2 C-6,3 -3,6 -3.5,10.5 C0,9 5.5,6 5.5,1 C6,-3 1,-7 3.5,-11Z", fill:"#d7191c", stroke:"#000", "stroke-width":1.6}, mark);
    const letter = make("text", {x:0,y:3,"font-size":9,"font-weight":"bold","text-anchor":"middle",style:"fill:#fff"}, mark);
    letter.textContent = m[3];
  });

  // frame + ticks
  const ticks = make("g", {stroke:"#000"}, g);
  
  
  for(let lon=-90;lon<=90;lon+=10){
    const major = lon % 60 === 0;
    const len = major ? 6 : 2.5, w = major ? 2.2 : 1.3;
    make("line",{x1:x(lon),x2:x(lon),y1:top,y2:top-len,"stroke-width":w},ticks);
    make("line",{x1:x(lon),x2:x(lon),y1:top+PLOT_H,y2:top+PLOT_H+len,"stroke-width":w},ticks);
  }
  for(let lat=-10;lat<=30;lat+=2){
    const major = lat % 10 === 0;
    const len = major ? 5 : 2.5, w = major ? 2.2 : 1.3;
    make("line",{x1:left,x2:left-len,y1:y(lat),y2:y(lat),"stroke-width":w},ticks);
    make("line",{x1:left+PLOT_W,x2:left+PLOT_W+len,y1:y(lat),y2:y(lat),"stroke-width":w},ticks);
  }
  const frame = make("rect",{x:left,y:top,width:PLOT_W,height:PLOT_H,fill:"none",stroke:"#000","stroke-width":3},g);
  
  

  const t = make("text",{x:TITLE_X[col][row],y:TITLE_BASE[col][row],"font-size":36,textLength:TITLE_W[col][row],lengthAdjust:"spacingAndGlyphs"},g);
  
  
  t.textContent = title;

  if(col === 0){
    latTickLabels.forEach(tk => {
      const lb = make("text",{x:74,y:y(tk[0])+12.5,"font-size":37,"text-anchor":"end"},g);
      
      
      lb.textContent = tk[1];
      narrow(lb, 0.92);
    });
  }
  if(row === 3){
    lonTickLabels.forEach(tk => {
      const lb = make("text",{x:x(tk[0])-1,y:943,"font-size":36,"text-anchor":"middle"},g);
      
      
      lb.textContent = tk[1];
      narrow(lb, 0.96);
    });
  }
});

// ---------- colorbar ----------
const cb = document.getElementById("colorbar");
const CB_X = 230, CB_Y = 1004, CB_W = 603, CB_H = 24;
const cbStep = CB_W / colorbarColors.length;
colorbarColors.forEach((c,i) => {
  const box = make("rect",{x:CB_X+i*cbStep,y:CB_Y,width:cbStep,height:CB_H,fill:c,stroke:"#000","stroke-width":1.4},cb);
  
  
});
colorbarTicks.forEach((t,i) => {
  const lb = make("text",{x:CB_X+(i+1)*cbStep,y:1058,"font-size":31,"text-anchor":"middle"},cb);
  
  
  lb.textContent = t;
  narrow(lb, 0.93);
});
</script>
</body>
</html>
